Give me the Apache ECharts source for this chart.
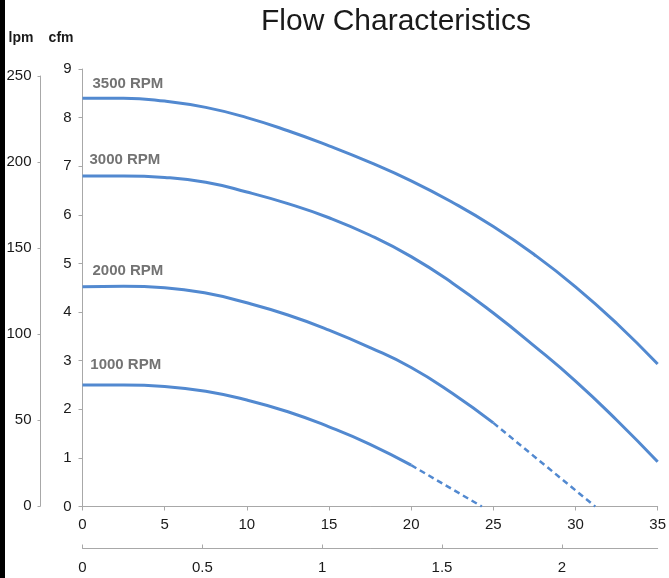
<!DOCTYPE html>
<html>
<head>
<meta charset="utf-8">
<script src="https://cdn.jsdelivr.net/npm/echarts@6/dist/echarts.min.js"></script>
<style>
html,body{margin:0;padding:0;background:#fff;}
#chart{width:669px;height:578px;}
</style>
</head>
<body>
<div id="chart"></div>
<script>
// ---- data ----
var titleText = 'Flow Characteristics';
var rpmLabels = ['3500 RPM', '3000 RPM', '2000 RPM', '1000 RPM'];
var xFull = [0, 2.5, 5, 7.5, 10, 12.5, 15, 17.5, 20, 22.5, 25, 27.5, 30, 32.5, 35];
var cfm3500 = [8.40, 8.40, 8.34, 8.21, 8.00, 7.73, 7.42, 7.08, 6.70, 6.26, 5.76, 5.18, 4.52, 3.77, 2.93];
var cfm3000 = [6.80, 6.80, 6.77, 6.67, 6.47, 6.23, 5.94, 5.58, 5.14, 4.60, 3.98, 3.30, 2.58, 1.78, 0.92];
var cfm2000 = [4.52, 4.53, 4.50, 4.39, 4.19, 3.94, 3.63, 3.27, 2.86, 2.33, 1.72];
var cfm1000 = [2.50, 2.50, 2.47, 2.37, 2.19, 1.95, 1.64, 1.28, 0.85];
var dash2000X = [25, 31.2];
var dash2000Y = [1.72, 0];
var dash1000X = [20, 24.3];
var dash1000Y = [0.85, 0];
var lpmTicks = {min: 0, max: 250, interval: 50};
var cfmTicks = {min: 0, max: 9, interval: 1};
var xTicks = {min: 0, max: 35, interval: 5};
var x2Ticks = {min: 0, max: 2.4, interval: 0.5};
var unitLpm = 'lpm';
var unitCfm = 'cfm';

// ---- styles ----
var lineColor = '#5289d0';
var axisColor = '#a8a8a8';
var labelColor = '#1a1a1a';
var font = "'Liberation Sans', Arial, sans-serif";
var labelOffsets = [[9.5, -14], [6.5, -16], [9.5, -16], [7.3, -20.5]];

function pairs(xs, ys) {
  return ys.map(function (y, i) { return [xs[i], y]; });
}
function withLabel(xs, ys, idx) {
  var d = pairs(xs, ys);
  d[0] = {
    value: d[0],
    label: {
      show: true,
      position: 'right',
      distance: 0,
      offset: labelOffsets[idx],
      formatter: rpmLabels[idx],
      color: '#737373',
      fontFamily: font,
      fontWeight: 'bold',
      fontSize: 15
    }
  };
  return d;
}
function solid(ys, idx) {
  return {
    type: 'line',
    xAxisIndex: 0, yAxisIndex: 0,
    data: withLabel(xFull, ys, idx),
    smooth: 0.5,
    showSymbol: true,
    symbol: 'circle',
    symbolSize: 1,
    itemStyle: {color: 'rgba(0,0,0,0)'},
    lineStyle: {color: lineColor, width: 3},
    label: {show: false},
    silent: true,
    z: 3
  };
}
function dashed(xs, ys) {
  return {
    type: 'line',
    xAxisIndex: 0, yAxisIndex: 0,
    data: pairs(xs, ys),
    showSymbol: false,
    lineStyle: {color: lineColor, width: 2.5, type: [6, 4]},
    silent: true
  };
}

var axisLine = {show: true, lineStyle: {color: axisColor, width: 1}};
var axisLabelBase = {color: labelColor, fontFamily: font, fontSize: 15};

var option = {
  backgroundColor: '#fff',
  animation: false,
  title: {
    text: titleText,
    left: 391,
    top: 2,
    textAlign: 'center',
    textStyle: {fontFamily: font, fontWeight: 'normal', fontSize: 30, color: '#1a1a1a'}
  },
  graphic: [{type: 'rect', left: 0, top: 0, shape: {width: 5, height: 578}, style: {fill: '#000'}, silent: true}],
  grid: [
    {left: 82.5, right: 9, top: 69, bottom: 71.5, containLabel: false},
    {left: 40.5, width: 1, top: 76, bottom: 72, containLabel: false}
  ],
  xAxis: [
    {
      type: 'value', gridIndex: 0, position: 'bottom',
      min: xTicks.min, max: xTicks.max, interval: xTicks.interval,
      axisLine: axisLine,
      axisTick: {show: true, length: 4, lineStyle: {color: axisColor}},
      axisLabel: Object.assign({margin: 11}, axisLabelBase),
      splitLine: {show: false}
    },
    {
      type: 'value', gridIndex: 0, position: 'bottom', offset: 42,
      min: x2Ticks.min, max: x2Ticks.max, interval: x2Ticks.interval,
      axisLine: axisLine,
      axisTick: {show: true, inside: true, length: 4, lineStyle: {color: axisColor}},
      axisLabel: Object.assign({margin: 12, showMaxLabel: false}, axisLabelBase),
      splitLine: {show: false}
    },
    {type: 'value', gridIndex: 1, show: false, min: 0, max: 1}
  ],
  yAxis: [
    {
      type: 'value', gridIndex: 0, position: 'left',
      min: cfmTicks.min, max: cfmTicks.max, interval: cfmTicks.interval,
      name: unitCfm, nameGap: 31,
      nameTextStyle: {color: labelColor, fontFamily: font, fontWeight: 'bold', fontSize: 14, align: 'right', verticalAlign: 'middle', padding: [0, 9, 0, 0]},
      axisLine: axisLine,
      axisTick: {show: true, length: 4, lineStyle: {color: axisColor}},
      axisLabel: Object.assign({margin: 11}, axisLabelBase),
      splitLine: {show: false}
    },
    {
      type: 'value', gridIndex: 1, position: 'left',
      min: lpmTicks.min, max: lpmTicks.max, interval: lpmTicks.interval,
      name: unitLpm, nameGap: 38,
      nameTextStyle: {color: labelColor, fontFamily: font, fontWeight: 'bold', fontSize: 14, align: 'right', verticalAlign: 'middle', padding: [0, 7, 0, 0]},
      axisLine: axisLine,
      axisTick: {show: true, length: 3, lineStyle: {color: axisColor}},
      axisLabel: Object.assign({margin: 9}, axisLabelBase),
      splitLine: {show: false}
    }
  ],
  series: [
    solid(cfm3500, 0),
    solid(cfm3000, 1),
    solid(cfm2000, 2),
    solid(cfm1000, 3),
    dashed(dash2000X, dash2000Y),
    dashed(dash1000X, dash1000Y)
  ]
};

var chart = echarts.init(document.getElementById('chart'), null, {renderer: 'canvas'});
chart.setOption(option);
</script>
</body>
</html>
